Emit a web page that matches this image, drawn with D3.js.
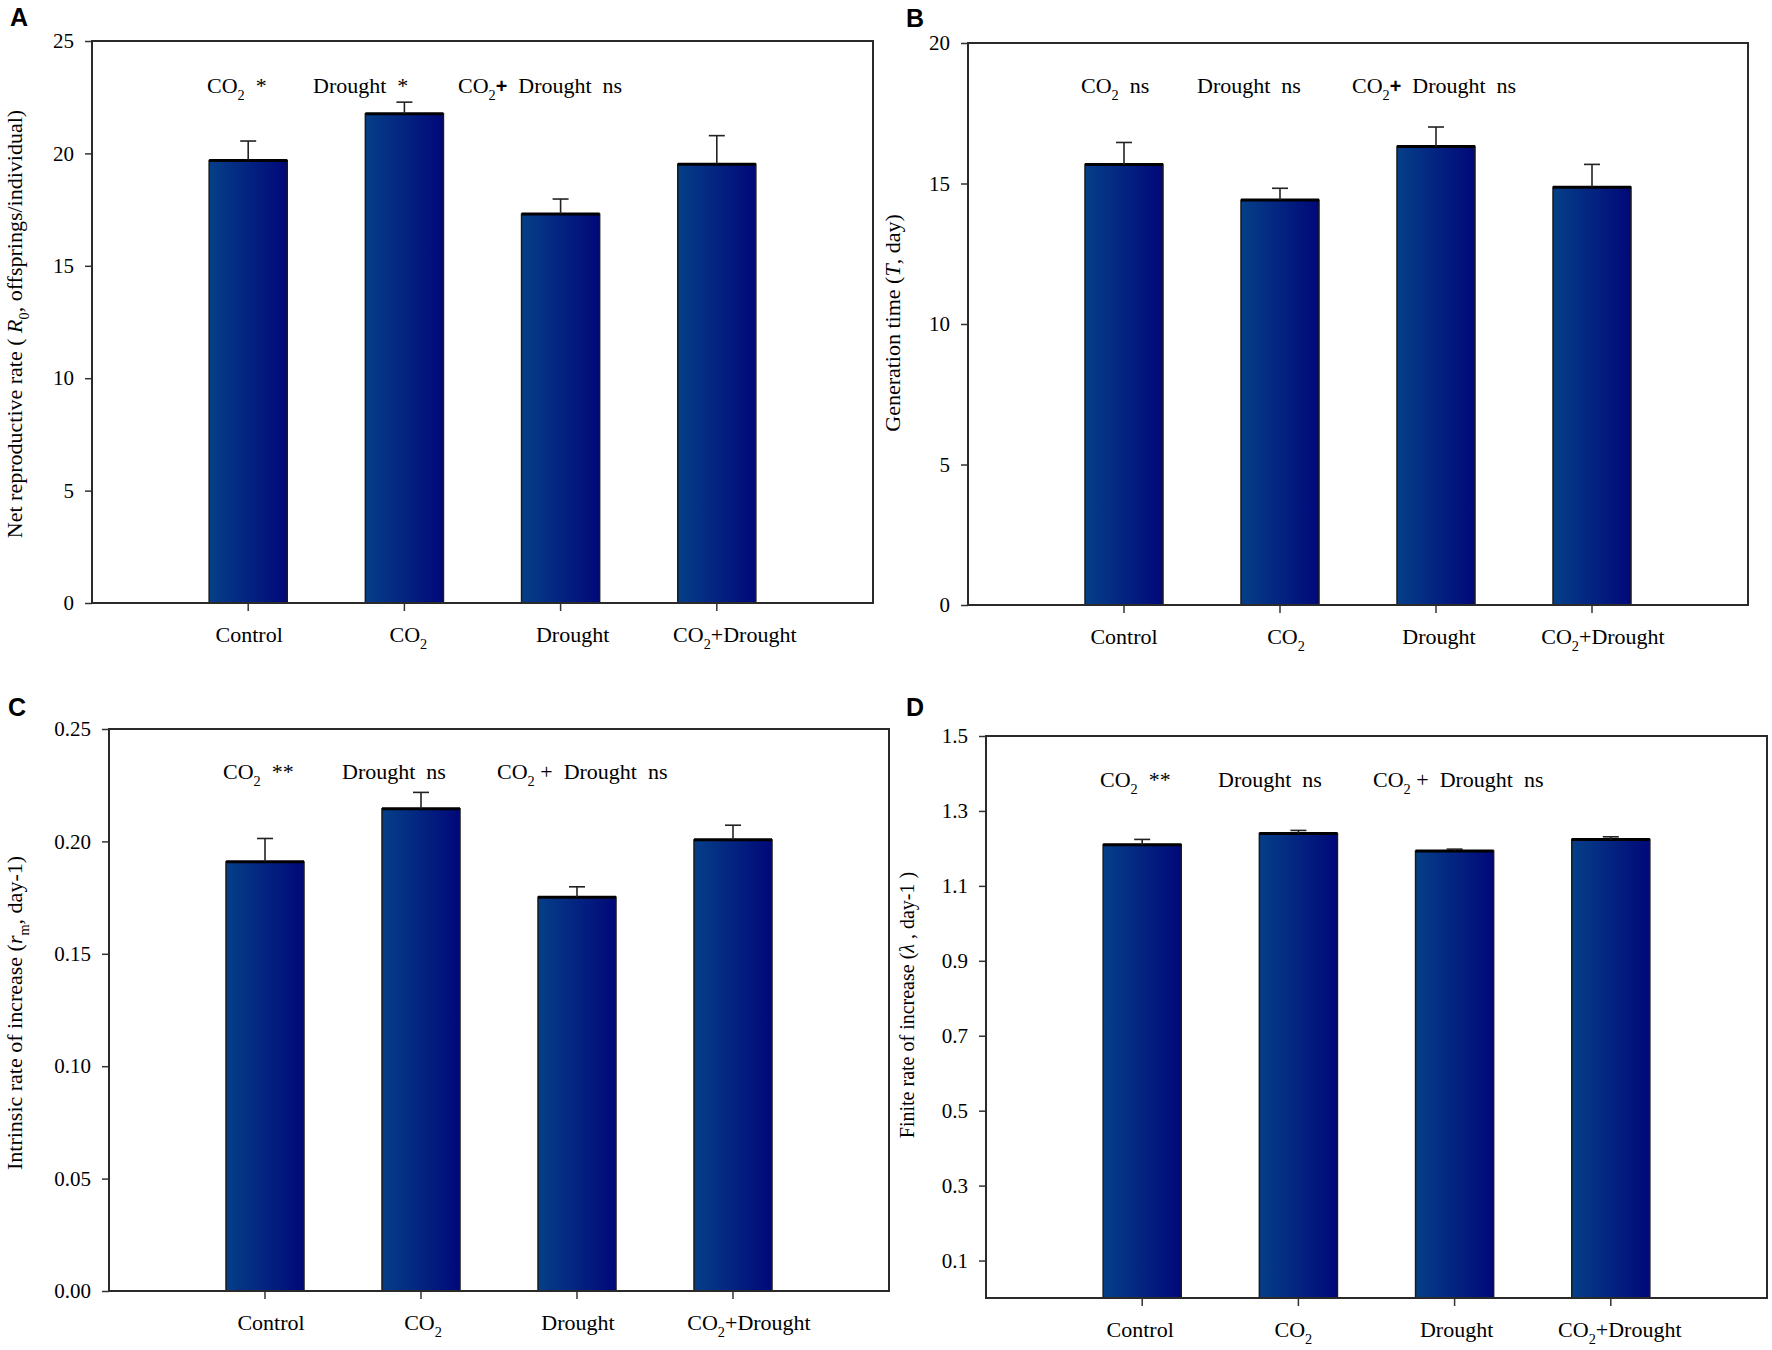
<!DOCTYPE html>
<html><head><meta charset="utf-8">
<script src="https://cdn.jsdelivr.net/npm/d3@7"></script>
<style>body{margin:0;background:#fff} svg{display:block;background:#fff}</style>
</head><body>
<svg id="chart" width="1772" height="1350"></svg>
<script>
// ---------- data ----------
const categories = ["Control", "CO_{2}", "Drought", "CO_{2}+Drought"];

const r0Mean = [19.68, 21.76, 17.30, 19.52];
const r0Err  = [0.87, 0.52, 0.67, 1.27];

const genMean = [15.68, 14.41, 16.32, 14.87];
const genErr  = [0.78, 0.42, 0.69, 0.81];

const rmMean = [0.1909, 0.2145, 0.1752, 0.2007];
const rmErr  = [0.0104, 0.0073, 0.0046, 0.0065];

const lambdaMean = [1.210, 1.240, 1.193, 1.224];
const lambdaErr  = [0.014, 0.008, 0.005, 0.007];

const ticksA = [0, 5, 10, 15, 20, 25];
const ticksB = [0, 5, 10, 15, 20];
const ticksC = [0, 0.05, 0.10, 0.15, 0.20, 0.25];
const ticksD = [0.1, 0.3, 0.5, 0.7, 0.9, 1.1, 1.3, 1.5];

const annoA = ["CO_{2}  *", "Drought  *", "CO_{2}!{+}  Drought  ns"];
const annoB = ["CO_{2}  ns", "Drought  ns", "CO_{2}!{+}  Drought  ns"];
const annoC = ["CO_{2}  **", "Drought  ns", "CO_{2} +  Drought  ns"];
const annoD = ["CO_{2}  **", "Drought  ns", "CO_{2} +  Drought  ns"];

const ylabA = "Net reproductive rate ( ~{R}_{0}, offsprings/individual)";
const ylabB = "Generation time (~{T}, day)";
const ylabC = "Intrinsic rate of increase (~{r}_{m}, day-1)";
const ylabD = "Finite rate of increase (~{λ} , day-1 )";

// ---------- layout ----------
const SERIF = "'Liberation Serif','Times New Roman',serif";
const SANS = "'Liberation Sans',Arial,sans-serif";
const FS = 22;
const panels = [
  {letter:"A", L:92,  R:873,  T:41,  B:603,  dom:[0,25],  ticks:ticksA, fmt:d3.format("d"),   mean:r0Mean, err:r0Err, ylab:ylabA, ylfs:22, ylx:22,  yly:324,  anno:annoA, ax:[115,221,366], ay:52, lx:10,  ly:26,  xoff:[1,4,12,18]},
  {letter:"B", L:968, R:1748, T:43,  B:605,  dom:[0,20],  ticks:ticksB, fmt:d3.format("d"),   mean:genMean, err:genErr, ylab:ylabB, ylfs:22, ylx:900, yly:323, anno:annoB, ax:[113,229,384], ay:50, lx:906, ly:27,  xoff:[0,6,3,11]},
  {letter:"C", L:109, R:889,  T:729, B:1291, dom:[0,0.25],ticks:ticksC, fmt:d3.format(".2f"), mean:rmMean, err:rmErr, ylab:ylabC, ylfs:22, ylx:22,  yly:1013, anno:annoC, ax:[114,233,388], ay:50, lx:8,   ly:716, xoff:[6,2,1,16]},
  {letter:"D", L:986, R:1767, T:736, B:1298, dom:[0,1.5], ticks:ticksD, fmt:d3.format(".1f"), mean:lambdaMean, err:lambdaErr, ylab:ylabD, ylfs:20, ylx:914, yly:1005, anno:annoD, ax:[114,232,387], ay:51, lx:906, ly:716, xoff:[-2,-5,2,9]}
];

const svg = d3.select("#chart");
const defs = svg.append("defs");
const grad = defs.append("linearGradient").attr("id","barGrad").attr("x1","0").attr("x2","1").attr("y1","0").attr("y2","0");
grad.append("stop").attr("offset","0%").attr("stop-color","#053f88");
grad.append("stop").attr("offset","100%").attr("stop-color","#010879");

function rich(sel, str, fs) {
  const parts = str.match(/(_\{[^}]*\}|~\{[^}]*\}|!\{[^}]*\}|[^_~!]+)/g) || [];
  let shift = 0;
  parts.forEach(p => {
    const t = sel.append("tspan");
    if (p.startsWith("_{")) {
      t.text(p.slice(2, -1)).attr("font-size", fs * 0.65).attr("dy", fs * 0.3);
      shift = fs * 0.3;
    } else {
      if (shift) { t.attr("dy", -shift); shift = 0; }
      if (p.startsWith("~{")) t.text(p.slice(2, -1)).attr("font-style", "italic");
      else if (p.startsWith("!{")) t.text(p.slice(2, -1)).attr("font-family", SANS).attr("font-weight", "bold").attr("font-size", fs*0.9);
      else t.text(p);
    }
  });
}

panels.forEach(p => {
  const g = svg.append("g");
  const W = p.R - p.L;
  const x = d3.scaleBand().domain(categories).range([p.L, p.R]).paddingInner(0.5).paddingOuter(0.75);
  const y = d3.scaleLinear().domain(p.dom).range([p.B, p.T]);
  const rows = categories.map((c, i) => ({c, m: p.mean[i], e: p.err[i]}));

  // bars
  g.selectAll("rect.bar").data(rows).join("rect").attr("class","bar")
    .attr("x", d => x(d.c)).attr("width", x.bandwidth())
    .attr("y", d => y(d.m)).attr("height", d => y(p.dom[0]) - y(d.m))
    .attr("fill", "url(#barGrad)").attr("stroke", "#1a1a1a").attr("stroke-width", 1.5);
  g.selectAll("line.top").data(rows).join("line").attr("class","top")
    .attr("x1", d => x(d.c)).attr("x2", d => x(d.c) + x.bandwidth())
    .attr("y1", d => y(d.m)).attr("y2", d => y(d.m))
    .attr("stroke", "#000").attr("stroke-width", 3);

  // error bars
  const cx = d => x(d.c) + x.bandwidth() / 2;
  g.selectAll("line.ev").data(rows).join("line").attr("class","ev")
    .attr("x1", cx).attr("x2", cx).attr("y1", d => y(d.m)).attr("y2", d => y(d.m + d.e))
    .attr("stroke", "#222").attr("stroke-width", 1.6);
  g.selectAll("line.ec").data(rows).join("line").attr("class","ec")
    .attr("x1", d => cx(d) - 8).attr("x2", d => cx(d) + 8)
    .attr("y1", d => y(d.m + d.e)).attr("y2", d => y(d.m + d.e))
    .attr("stroke", "#222").attr("stroke-width", 1.6);

  // axes
  const ya = g.append("g").attr("transform", `translate(${p.L},0)`)
    .call(d3.axisLeft(y).tickValues(p.ticks).tickSize(7).tickPadding(11).tickFormat(p.fmt));
  ya.select(".domain").remove();
  ya.selectAll("line").attr("stroke", "#333").attr("stroke-width", 1.5);
  ya.selectAll("text").attr("font-family", SERIF).attr("font-size", 21).attr("fill", "#000");

  const xa = g.append("g").attr("transform", `translate(0,${p.B})`)
    .call(d3.axisBottom(x).tickSize(8).tickFormat(""));
  xa.select(".domain").remove();
  xa.selectAll("line").attr("stroke", "#333").attr("stroke-width", 1.5);

  categories.forEach((c, i) => {
    const t = g.append("text").attr("x", x(c) + x.bandwidth() / 2 + p.xoff[i]).attr("y", p.B + 39)
      .attr("text-anchor", "middle").attr("font-family", SERIF).attr("font-size", FS).attr("fill", "#000");
    rich(t, c, FS);
  });

  // frame
  g.append("rect").attr("x", p.L).attr("y", p.T).attr("width", W).attr("height", p.B - p.T)
    .attr("fill", "none").attr("stroke", "#2a2a2a").attr("stroke-width", 2);

  // annotations
  p.anno.forEach((a, i) => {
    const t = g.append("text").attr("x", p.L + p.ax[i]).attr("y", p.T + p.ay)
      .attr("font-family", SERIF).attr("font-size", FS).attr("fill", "#000")
      .style("white-space", "pre");
    rich(t, a, FS);
  });

  // y label
  const yl = g.append("text").attr("transform", `translate(${p.ylx},${p.yly}) rotate(-90)`)
    .attr("text-anchor", "middle").attr("font-family", SERIF).attr("font-size", p.ylfs).attr("fill", "#000");
  rich(yl, p.ylab, p.ylfs);

  // panel letter
  g.append("text").attr("x", p.lx).attr("y", p.ly).attr("font-family", SANS).attr("font-weight", "bold")
    .attr("font-size", 25).attr("fill", "#000").text(p.letter);
});
</script>
</body></html>
